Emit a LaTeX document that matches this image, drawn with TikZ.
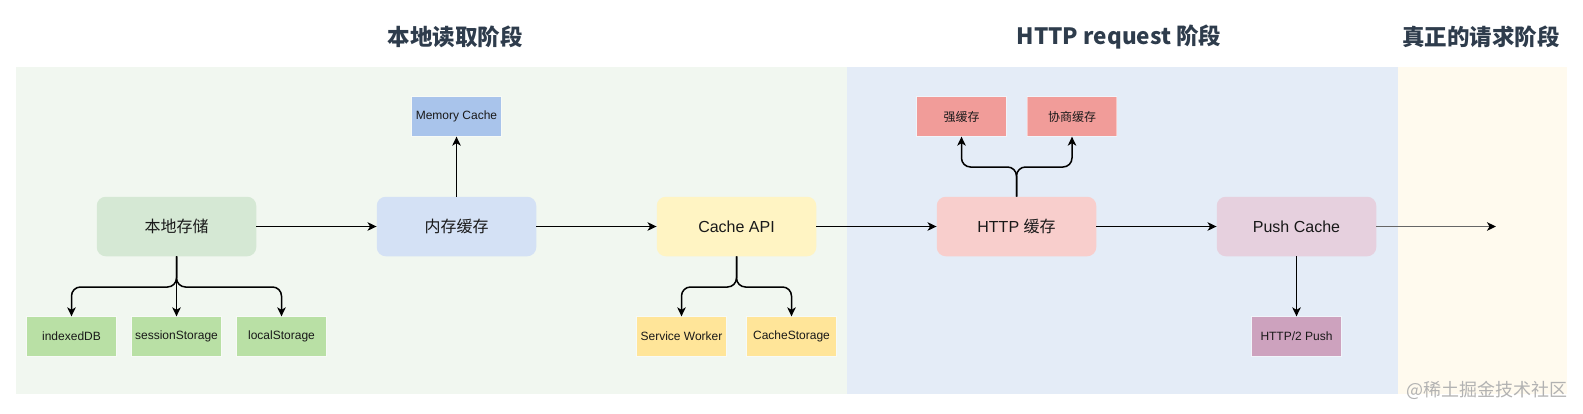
\documentclass[tikz,border=0pt]{standalone}
\usepackage{fontspec}
\setmainfont{Liberation Sans}
\newfontfamily\cjk{Noto Sans CJK SC}
\usetikzlibrary{arrows.meta}

\definecolor{bggreen}{HTML}{F1F7F0}
\definecolor{bgblue}{HTML}{E4ECF7}
\definecolor{bgyellow}{HTML}{FFFAEE}
\definecolor{titlecol}{HTML}{2E3C4C}
\definecolor{localfill}{HTML}{D5E8D4}
\definecolor{memfill}{HTML}{D4E1F5}
\definecolor{apifill}{HTML}{FFF4C3}
\definecolor{httpfill}{HTML}{F8CECC}
\definecolor{pushfill}{HTML}{E6D0DE}
\definecolor{subgreen}{HTML}{B9E0A5}
\definecolor{subblue}{HTML}{A9C4EB}
\definecolor{subyellow}{HTML}{FFE599}
\definecolor{subred}{HTML}{F19C99}
\definecolor{subpurple}{HTML}{CDA2BE}

\begin{document}
\begin{tikzpicture}[x=1pt, y=-1pt, >={Stealth[length=9pt,width=8.5pt,inset=2.5pt]},
    arr/.style={->, line width=1.5pt, black, rounded corners=9pt},
    mainbox/.style={rounded corners=9pt, minimum width=159.5pt, minimum height=59.5pt,
      inner sep=0pt, text=black!90, font=\fontsize{16}{18}\selectfont},
    subbox/.style={minimum width=89.5pt, minimum height=39.5pt, inner sep=0pt,
      draw=white, draw opacity=0.45, line width=0.8pt, text=black!90,
      font=\fontsize{12}{14}\selectfont},
    title/.style={text=titlecol, font=\cjk\bfseries\fontsize{22.5}{26}\selectfont}]
  \useasboundingbox (0,0) rectangle (1583,413);

  % 三个阶段的背景
  \fill[bggreen] (16,66.5) rectangle (846.5,394);
  \fill[bgblue] (846.5,66.5) rectangle (1397.5,394);
  \fill[bgyellow] (1397.5,66.5) rectangle (1567,394);

  % 阶段标题
  \node[title] (t1) at (455,37) {本地读取阶段};
  \node[title] (t2) at (1119,37) {HTTP request 阶段};
  \node[title] (t3) at (1481,37) {真正的请求阶段};

  % --- 主流程 ---
  \node[mainbox, fill=localfill] (local) at (176.5,226.5) {\cjk 本地存储};
  \node[mainbox, fill=memfill] (mem) at (456.5,226.5) {\cjk 内存缓存};
  \node[mainbox, fill=apifill] (api) at (736.5,226.5) {Cache API};
  \node[mainbox, fill=httpfill] (http) at (1016.5,226.5) {HTTP {\cjk 缓存}};
  \node[mainbox, fill=pushfill] (push) at (1296.5,226.5) {Push Cache};
  \coordinate (reqend) at (1496,226.5);

  \draw[arr] (local) -- (mem);
  \draw[arr] (mem) -- (api);
  \draw[arr] (api) -- (http);
  \draw[arr] (http) -- (push);
  \draw[-{Stealth[length=9pt,width=8.5pt,inset=2.5pt,black]}, line width=1.7pt, black!60] (push) -- (reqend);

  % --- 本地存储 ---
  \node[subbox, fill=subgreen] (idb) at (71.5,336.5) {indexedDB};
  \node[subbox, fill=subgreen] (ss) at (176.5,336.5) {sessionStorage};
  \node[subbox, fill=subgreen] (ls) at (281.5,336.5) {localStorage};
  \draw[arr] (local.south) -- (local.south |- 0,287) -| (idb.north);
  \draw[arr] (local.south) -- (ss.north);
  \draw[arr] (local.south) -- (local.south |- 0,287) -| (ls.north);

  % --- 内存缓存 ---
  \node[subbox, fill=subblue] (memc) at (456.5,116.5) {Memory Cache};
  \draw[arr] (mem.north) -- (memc.south);

  % --- Cache API ---
  \node[subbox, fill=subyellow] (sw) at (681.5,336.5) {Service Worker};
  \node[subbox, fill=subyellow] (cs) at (791.5,336.5) {CacheStorage};
  \draw[arr] (api.south) -- (api.south |- 0,287) -| (sw.north);
  \draw[arr] (api.south) -- (api.south |- 0,287) -| (cs.north);

  % --- HTTP 缓存 ---
  \node[subbox, fill=subred] (strong) at (961.5,116.5) {\cjk 强缓存};
  \node[subbox, fill=subred] (nego) at (1072,116.5) {\cjk 协商缓存};
  \draw[arr] (http.north) -- (http.north |- 0,167) -| (strong.south);
  \draw[arr] (http.north) -- (http.north |- 0,167) -| (nego.south);

  % --- Push Cache ---
  \node[subbox, fill=subpurple] (h2) at (1296.5,336.5) {HTTP/2 Push};
  \draw[arr] (push.south) -- (h2.north);

  % 水印
  \node[text=black!30, font=\cjk\fontsize{18}{20}\selectfont] (mark) at (1487,390.5) {@稀土掘金技术社区};
\end{tikzpicture}
\end{document}
